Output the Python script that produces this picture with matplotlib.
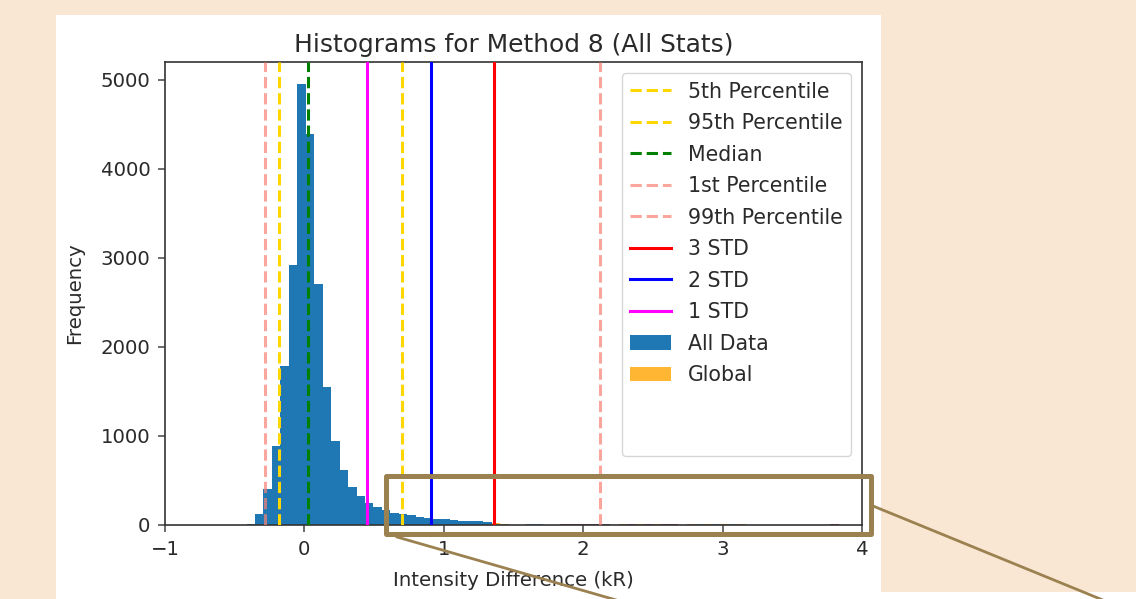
import numpy as np
import matplotlib
matplotlib.use("Agg")
import matplotlib.pyplot as plt
from matplotlib.patches import Rectangle, Patch
from matplotlib.lines import Line2D

# ---------------- data ----------------
bin_min = -0.415
bin_max = 3.834
n_bins = 70

all_data_counts = [
    15, 120, 400, 882, 1790, 2920, 4951, 4392, 2703, 1547,
    946, 616, 428, 327, 252, 203, 165, 140, 125, 110,
    95, 82, 72, 62, 55, 50, 46, 42, 38, 8,
    6, 4, 4, 6, 6, 3, 4, 6, 6, 6,
    6, 6, 6, 3, 6, 6, 6, 6, 6, 6,
    6, 3, 6, 6, 6, 6, 6, 6, 6, 3,
    0, 0, 0, 0, 0, 0, 0, 0, 4, 6,
]
global_counts = [
    0, 0, 0, 0, 0, 0, 0, 0, 0, 0,
    0, 0, 0, 0, 0, 0, 0, 0, 0, 0,
    0, 0, 0, 0, 0, 0, 0, 0, 0, 22,
    14, 0, 0, 0, 0, 0, 0, 0, 0, 0,
    0, 0, 0, 0, 14, 0, 14, 0, 14, 0,
    0, 0, 14, 0, 14, 0, 14, 0, 14, 0,
    0, 0, 0, 0, 0, 0, 0, 0, 0, 0,
]
teal_counts = [
    0, 0, 0, 0, 0, 0, 0, 0, 0, 0,
    0, 0, 0, 0, 0, 0, 0, 0, 0, 0,
    0, 0, 0, 0, 0, 0, 0, 0, 0, 0,
    0, 0, 0, 14, 14, 0, 0, 0, 0, 0,
    0, 0, 0, 0, 0, 0, 0, 0, 0, 0,
    0, 0, 0, 14, 0, 14, 0, 14, 0, 0,
    0, 0, 0, 0, 0, 0, 0, 0, 0, 0,
]
purple_counts = [
    0, 0, 0, 0, 0, 0, 0, 0, 0, 0,
    0, 0, 0, 0, 0, 0, 0, 0, 0, 0,
    0, 0, 0, 0, 0, 0, 0, 0, 0, 0,
    0, 0, 0, 0, 0, 0, 0, 14, 14, 14,
    14, 14, 14, 0, 0, 14, 0, 14, 0, 14,
    14, 0, 0, 0, 0, 0, 0, 0, 0, 0,
    0, 0, 0, 0, 0, 0, 0, 0, 0, 14,
]

stat_labels = ["5th Percentile", "95th Percentile", "Median", "1st Percentile",
               "99th Percentile", "3 STD", "2 STD", "1 STD"]
stat_values = [-0.185, 0.70, 0.027, -0.28, 2.12, 1.36, 0.91, 0.45]
stat_colors = ["gold", "gold", "green", "salmon", "salmon", "red", "blue", "magenta"]
stat_alphas = [1, 1, 1, 0.7, 0.7, 1, 1, 1]
stat_styles = ["--", "--", "--", "--", "--", "-", "-", "-"]

title = "Histograms for Method 8 (All Stats)"
xlabel = "Intensity Difference (kR)"
ylabel = "Frequency"
xticks = [-1, 0, 1, 2, 3, 4]
yticks = [0, 1000, 2000, 3000, 4000, 5000]

# ---------------- figure ----------------
W, H = 1136, 599
beige = "#F9E6D3"
brown = "#9C8150"

plt.rcParams["font.family"] = ["DejaVu Sans"]
fig = plt.figure(figsize=(W / 100, H / 100), dpi=100, facecolor=beige)

def fx(px):
    return px / W

def fy(py):
    return 1 - py / H

# white panel behind chart
fig.patches.append(Rectangle((fx(56), fy(599)), fx(881) - fx(56), fy(15) - fy(599),
                             transform=fig.transFigure, facecolor="white",
                             edgecolor="none", zorder=-10))
fig.patches.append(Rectangle((fx(881), fy(599)), 1 - fx(881), fy(592) - fy(599),
                             transform=fig.transFigure, facecolor="white",
                             edgecolor="none", zorder=-10))

ax_l, ax_r, ax_t, ax_b = 165, 862, 62, 525
ax = fig.add_axes([fx(ax_l), fy(ax_b), fx(ax_r) - fx(ax_l), fy(ax_t) - fy(ax_b)])
ax.set_zorder(1)
ax.set_facecolor("white")

edges = np.linspace(bin_min, bin_max, n_bins + 1)
widths = np.diff(edges)
ax.bar(edges[:-1], all_data_counts, width=widths, align="edge", color="#1f77b4",
       linewidth=0, zorder=2)
ax.bar(edges[:-1], global_counts, width=widths, align="edge", color="orange",
       alpha=0.8, linewidth=0, zorder=2.1)
ax.bar(edges[:-1], teal_counts, width=widths, align="edge", color="#3bb4c6",
       linewidth=0, zorder=2.1)
ax.bar(edges[:-1], purple_counts, width=widths, align="edge", color="#8a3a6c",
       linewidth=0, zorder=2.1)

lw = 2.2
for v, c, a, s in zip(stat_values, stat_colors, stat_alphas, stat_styles):
    ax.axvline(v, color=c, alpha=a, linestyle=s, linewidth=lw, zorder=3)

ax.set_xlim(-1, 4)
ax.set_ylim(0, 5200)
ax.set_xticks(xticks)
ax.set_xticklabels([f"{t}".replace("-", "\u2212") for t in xticks])
ax.set_yticks(yticks)
ax.tick_params(labelsize=14.2, length=5, width=1.1, color="#444444", labelcolor="#2a2a2a", pad=5.5)
for sp in ax.spines.values():
    sp.set_linewidth(1.2)
    sp.set_color("#333333")

ax.set_title(title, fontsize=17.9, color="#2a2a2a", pad=7.5)
ax.set_xlabel(xlabel, fontsize=14.2, color="#2a2a2a", labelpad=9)
ax.set_ylabel(ylabel, fontsize=14.2, color="#2a2a2a", labelpad=12)

handles = []
for c, a, s in zip(stat_colors, stat_alphas, stat_styles):
    handles.append(Line2D([], [], color=c, alpha=a, linestyle=s, linewidth=lw))
handles.append(Patch(facecolor="#1f77b4"))
handles.append(Patch(facecolor="orange", alpha=0.8))
handles.append(Patch(facecolor="none", edgecolor="none"))
handles.append(Patch(facecolor="none", edgecolor="none"))
labels = stat_labels + ["All Data", "Global", "", ""]
leg = ax.legend(handles, labels, loc="upper right", fontsize=14.8, framealpha=0.8,
                edgecolor="#cccccc", borderaxespad=0.55, handlelength=2.0,
                labelspacing=0.56)
leg.set_zorder(5)
for t in leg.get_texts():
    t.set_color("#2a2a2a")

# annotation box and lines
fig.patches.append(Rectangle((fx(385.5), fy(534)), fx(871) - fx(385.5), fy(475.5) - fy(534),
                             transform=fig.transFigure, facecolor="none", edgecolor=brown,
                             linewidth=3.6, joinstyle="round", zorder=10))
fig.lines.append(Line2D([fx(397), fx(630)], [fy(537), fy(604)], transform=fig.transFigure,
                        color=brown, linewidth=2.0, zorder=10))
fig.lines.append(Line2D([fx(873), fx(1115)], [fy(506), fy(605)], transform=fig.transFigure,
                        color=brown, linewidth=2.0, zorder=10))

fig.savefig("out.png", dpi=100, facecolor=beige)
